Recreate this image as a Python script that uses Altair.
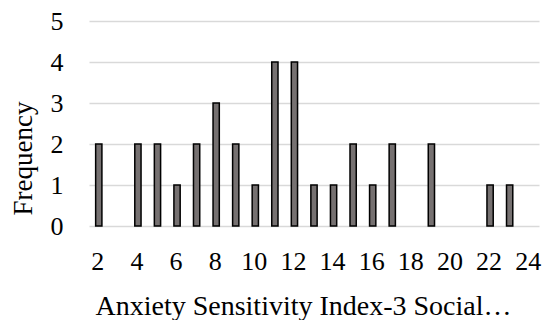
import altair as alt
import pandas as pd

scores = list(range(2, 25))
counts = [2, 0, 2, 2, 1, 2, 3, 2, 1, 4, 4, 1, 1, 2, 1, 2, 0, 2, 0, 0, 1, 1, 0]
tick_values = [2, 4, 6, 8, 10, 12, 14, 16, 18, 20, 22, 24]
y_ticks = [0, 1, 2, 3, 4, 5]

df = pd.DataFrame({"score": scores, "count": counts})

FONT = "'Liberation Serif', 'Times New Roman', 'DejaVu Serif', serif"

chart = (
    alt.Chart(df)
    .transform_filter(alt.datum["count"] > 0)
    .mark_bar(color="#767171", stroke="#000000", strokeWidth=1.5)
    .encode(
        x=alt.X(
            "score:O",
            scale=alt.Scale(domain=scores, paddingInner=0.68, paddingOuter=0.34),
            axis=alt.Axis(
                values=tick_values,
                labelAngle=0,
                labelFont=FONT,
                labelFontSize=26,
                labelColor="#000000",
                labelPadding=22,
                labelOffset=-1,
                ticks=False,
                domain=False,
                grid=False,
                title="Anxiety Sensitivity Index-3 Social…",
                titleFont=FONT,
                titleFontSize=28,
                titleFontWeight="normal",
                titleColor="#000000",
                titleX=214,
                titleY=88,
                titleBaseline="alphabetic",
                titleAnchor="middle",
            ),
        ),
        y=alt.Y(
            "count:Q",
            scale=alt.Scale(domain=[0, 5], nice=False),
            axis=alt.Axis(
                values=y_ticks,
                labelFont=FONT,
                labelFontSize=26,
                labelColor="#000000",
                labelPadding=26,
                ticks=False,
                domain=False,
                grid=True,
                gridColor="#d9d9d9",
                gridWidth=1.5,
                title="Frequency",
                titleFont=FONT,
                titleFontSize=27,
                titleFontWeight="normal",
                titleColor="#000000",
                titleX=-52,
                titleY=137,
                titleBaseline="bottom",
                titleAngle=270,
            ),
        ),
    )
    .properties(
        width=450,
        height=205,
        padding={"left": 81, "top": 13, "right": 3, "bottom": 94},
        autosize=alt.AutoSizeParams(type="none"),
    )
    .configure_view(stroke=None)
)

chart.save("out.html", embed_options={"renderer": "svg", "actions": False})
